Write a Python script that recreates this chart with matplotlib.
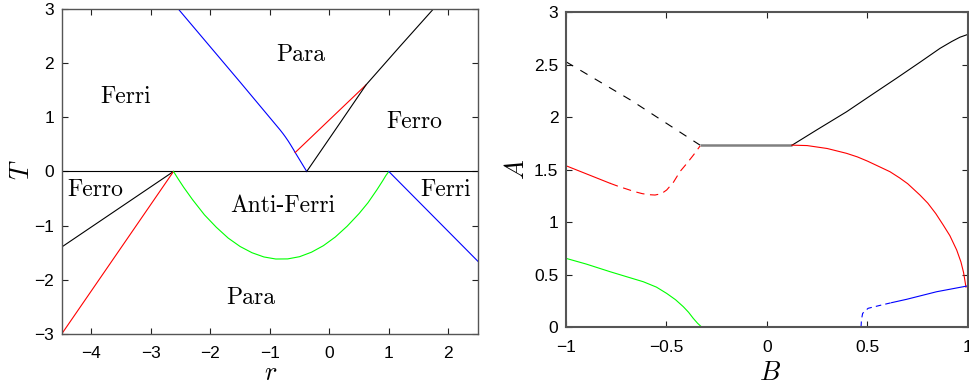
import matplotlib
matplotlib.use("Agg")
import matplotlib.pyplot as plt

plt.rcParams['font.family'] = ['Liberation Sans', 'DejaVu Sans']
plt.rcParams['lines.scale_dashes'] = False

# ---- left panel: phase boundaries in the (r, T) plane ----
blue_up_r = [-2.54, -1.5, -0.83, -0.78, -0.74, -0.69, -0.65, -0.6, -0.574, -0.38]
blue_up_T = [3.0, 1.65, 0.77, 0.70, 0.64, 0.56, 0.49, 0.40, 0.35, 0.0]
red_up_r = [-0.574, 0.618]
red_up_T = [0.35, 1.60]
black_up_r = [-0.38, 0.12, 0.618, 1.18, 1.75]
black_up_T = [0.0, 0.8, 1.6, 2.3, 3.0]
black_lo_r = [-4.5, -2.62]
black_lo_T = [-1.395, 0.0]
red_lo_r = [-4.5, -2.62]
red_lo_T = [-3.0, 0.0]
green_r = [-2.62, -2.55, -2.45, -2.3, -2.1, -1.9, -1.7, -1.5, -1.3, -1.1, -0.9, -0.7,
           -0.5, -0.3, -0.1, 0.1, 0.3, 0.5, 0.65, 0.8, 0.9, 0.95, 1.0]
green_T = [0.0, -0.123, -0.29, -0.52, -0.80, -1.03, -1.23, -1.385, -1.50, -1.578, -1.616, -1.614,
           -1.573, -1.49, -1.37, -1.21, -1.01, -0.777, -0.577, -0.338, -0.167, -0.076, 0.0]
blue_lo_r = [1.0, 2.5]
blue_lo_T = [0.0, -1.66]

phase_names = ['Para', 'Ferri', 'Ferro', 'Ferro', 'Anti-Ferri', 'Ferri', 'Para']
phase_r = [-0.48, -3.42, 1.43, -3.93, -0.775, 1.95, -1.32]
phase_T = [2.15, 1.38, 0.92, -0.34, -0.635, -0.34, -2.34]

left_xticks = [-4, -3, -2, -1, 0, 1, 2]
left_yticks = [-3, -2, -1, 0, 1, 2, 3]

# ---- right panel: A versus B ----
gray_B = [-0.333, 0.125]
gray_A = [1.732, 1.732]
kdash_B = [-1.0, -0.677, -0.333]
kdash_A = [2.526, 2.16, 1.732]
k_B = [0.125, 0.25, 0.396, 0.52, 0.645, 0.76, 0.861, 0.92, 0.96, 1.0]
k_A = [1.732, 1.88, 2.05, 2.21, 2.37, 2.52, 2.654, 2.72, 2.76, 2.787]
red_B = [0.125, 0.2, 0.3, 0.396, 0.45, 0.5, 0.55, 0.612, 0.66, 0.7, 0.761, 0.8, 0.84,
         0.877, 0.91, 0.944, 0.965, 0.978, 0.985, 0.99]
red_A = [1.732, 1.728, 1.70, 1.654, 1.62, 1.58, 1.535, 1.479, 1.42, 1.365, 1.257, 1.18, 1.08,
         0.971, 0.87, 0.733, 0.62, 0.52, 0.44, 0.38]
redl_B = [-1.0, -0.781]
redl_A = [1.536, 1.369]
redd_B = [-0.781, -0.74, -0.698, -0.66, -0.62, -0.585, -0.557, -0.525, -0.499, -0.465,
          -0.433, -0.40, -0.365, -0.333]
redd_A = [1.369, 1.34, 1.314, 1.29, 1.27, 1.26, 1.257, 1.27, 1.305, 1.38,
          1.48, 1.555, 1.64, 1.724]
green_B = [-1.0, -0.9, -0.781, -0.7, -0.615, -0.55, -0.499, -0.455, -0.416, -0.39,
           -0.367, -0.345, -0.325, -0.31]
green_A = [0.654, 0.60, 0.527, 0.48, 0.431, 0.38, 0.32, 0.26, 0.193, 0.14,
           0.083, 0.035, 0.0, 0.0]
blued_B = [0.468, 0.47, 0.476, 0.503, 0.56, 0.62]
blued_A = [0.0, 0.07, 0.13, 0.178, 0.205, 0.232]
blue_B = [0.62, 0.695, 0.844, 0.994, 1.0]
blue_A = [0.232, 0.264, 0.336, 0.39, 0.39]

right_xticks = [-1, -0.5, 0, 0.5, 1]
right_xlabels = ['\u22121', '\u22120.5', '0', '0.5', '1']
right_yticks = [0, 0.5, 1, 1.5, 2, 2.5, 3]
right_ylabels = ['0', '0.5', '1', '1.5', '2', '2.5', '3']

fig = plt.figure(figsize=(9.7, 3.85), dpi=100)
ax1 = fig.add_axes([0.0636, 0.1325, 0.4292, 0.8442])
ax2 = fig.add_axes([0.5835, 0.1506, 0.4144, 0.8182])

lw = 0.8
ax1.axhline(0, color='k', lw=lw)
ax1.plot(blue_up_r, blue_up_T, color='#0000ff', lw=lw)
ax1.plot(red_up_r, red_up_T, color='#ff0000', lw=lw)
ax1.plot(black_up_r, black_up_T, color='k', lw=lw)
ax1.plot(black_lo_r, black_lo_T, color='k', lw=lw)
ax1.plot(red_lo_r, red_lo_T, color='#ff0000', lw=lw)
ax1.plot(green_r, green_T, color='#00ff00', lw=lw)
ax1.plot(blue_lo_r, blue_lo_T, color='#0000ff', lw=lw)
for name, r, T in zip(phase_names, phase_r, phase_T):
    ax1.text(r, T, name, family='cmr10', fontsize=17, ha='center', va='center')
ax1.set_xlim(-4.5, 2.5)
ax1.set_ylim(-3, 3)
ax1.set_xticks(left_xticks)
ax1.set_yticks(left_yticks)

ax2.plot(gray_B, gray_A, color='#808080', lw=1.8, solid_capstyle='butt')
ax2.plot(kdash_B, kdash_A, color='k', lw=lw, dashes=(6, 6))
ax2.plot(k_B, k_A, color='k', lw=lw)
ax2.plot(red_B, red_A, color='#ff0000', lw=lw)
ax2.plot(redl_B, redl_A, color='#ff0000', lw=lw)
ax2.plot(redd_B, redd_A, color='#ff0000', lw=lw, dashes=(6, 4))
ax2.plot(green_B, green_A, color='#00ff00', lw=lw)
ax2.plot(blued_B, blued_A, color='#0000ff', lw=lw, dashes=(4, 3))
ax2.plot(blue_B, blue_A, color='#0000ff', lw=lw)
ax2.set_xlim(-1, 1)
ax2.set_ylim(0, 3)
ax2.set_xticks(right_xticks)
ax2.set_xticklabels(right_xlabels)
ax2.set_yticks(right_yticks)
ax2.set_yticklabels(right_ylabels)

for ax, sw in ((ax1, 1.0), (ax2, 1.5)):
    for s in ax.spines.values():
        s.set_color('#555555')
        s.set_linewidth(sw)
    ax.tick_params(direction='in', top=True, right=True, length=4, width=0.8,
                   labelsize=12.5, color='#222222')
    ax.tick_params(axis='x', pad=9)
    ax.tick_params(axis='y', pad=5.5)

fig.text(28.3 / 970, 0.5 * (1 - 9 / 385) + 0.5 * (1 - 334 / 385), 'T', family='cmmi10',
         fontsize=19, rotation=90, rotation_mode='anchor', ha='center', va='baseline')
fig.text(270 / 970, 1 - 380 / 385, 'r', family='cmmi10', fontsize=19,
         ha='center', va='baseline')
fig.text(523.3 / 970, 1 - 169.5 / 385, 'A', family='cmmi10', fontsize=19,
         rotation=90, rotation_mode='anchor', ha='center', va='baseline')
fig.text(770 / 970, 1 - 380 / 385, 'B', family='cmmi10', fontsize=19,
         ha='center', va='baseline')

fig.savefig('out.png', dpi=100)
